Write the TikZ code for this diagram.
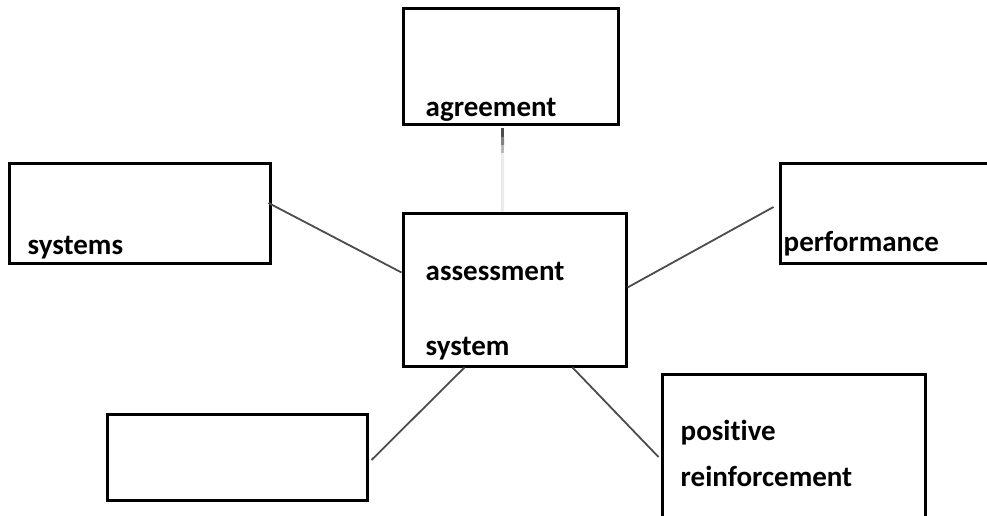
\documentclass[tikz,border=0pt]{standalone}
\usepackage{fontspec}
\setmainfont{Carlito}[Ligatures=NoCommon]
\usetikzlibrary{calc,positioning}
\tikzset{
  mapbox/.style={
    draw=black,
    line width=3pt,
    fill=white,
    inner sep=0pt
  },
  boxtext/.style={
    anchor=base west,
    inner sep=0pt,
    text=black,
    font=\fontsize{29}{35}\selectfont\bfseries
  },
  link/.style={draw=black!70, line width=1.8pt},
  stublink/.style={line width=3pt}
}

\begin{document}
\begin{tikzpicture}[x=1pt, y=-1pt]
  \useasboundingbox (0,0) rectangle (987,516);
  \clip (0,0) rectangle (987,516);
  \node[mapbox, minimum width=215pt, minimum height=116pt] (agree) at (510.5,67) {};
  \node[mapbox, minimum width=223pt, minimum height=153pt] (centre) at (514.5,289.5) {};
  \node[mapbox, minimum width=261pt, minimum height=100pt] (systems) at (139.5,213) {};
  \node[mapbox, minimum width=230pt, minimum height=100pt] (perf) at (895,213) {};
  \node[mapbox, minimum width=260pt, minimum height=86pt] (blank) at (237,457) {};
  \node[mapbox, minimum width=263pt, minimum height=166pt] (posrein) at (793.5,457) {};
  % labels
  \node[boxtext] (agreetxt) at ([shift={(24,-10)}]agree.south west) {agreement};
  \node[boxtext] (assesstxt) at ([shift={(24,69)}]centre.north west) {assessment};
  \node[boxtext] (systemtxt) at ([shift={(24,144)}]centre.north west) {system};
  \node[boxtext] (systemstxt) at ([shift={(20,-10)}]systems.south west) {systems};
  \node[boxtext] (perftxt) at ([shift={(5,-13)}]perf.south west) {performance};
  \node[boxtext] (postxt) at ([shift={(20,68)}]posrein.north west) {positive};
  \node[boxtext] (reintxt) at ([shift={(20,114)}]posrein.north west) {reinforcement};
  % links
  \draw[link] ([shift={(-3,-10)}]systems.east) -- ([yshift=17pt]centre.west);
  \draw[link] ([shift={(-5,-6)}]perf.west) -- ([yshift=2pt]centre.east);
  \draw[link] ([shift={(3,3)}]blank.east) -- ([xshift=-50pt]centre.south);
  \draw[link] ([xshift=-2pt]posrein.west) -- ([xshift=58pt]centre.south);
  \coordinate (stubtop) at ([shift={(-8,2)}]agree.south);
  \coordinate (stubend) at (stubtop |- centre.north);
  \foreach \tone/\from/\upto in {70/0/0.1, 50/0.1/0.2, 28/0.2/0.3, 8/0.3/1}
    \draw[stublink, draw=black!\tone] ($(stubtop)!\from!(stubend)$) -- ($(stubtop)!\upto!(stubend)$);
\end{tikzpicture}
\end{document}
